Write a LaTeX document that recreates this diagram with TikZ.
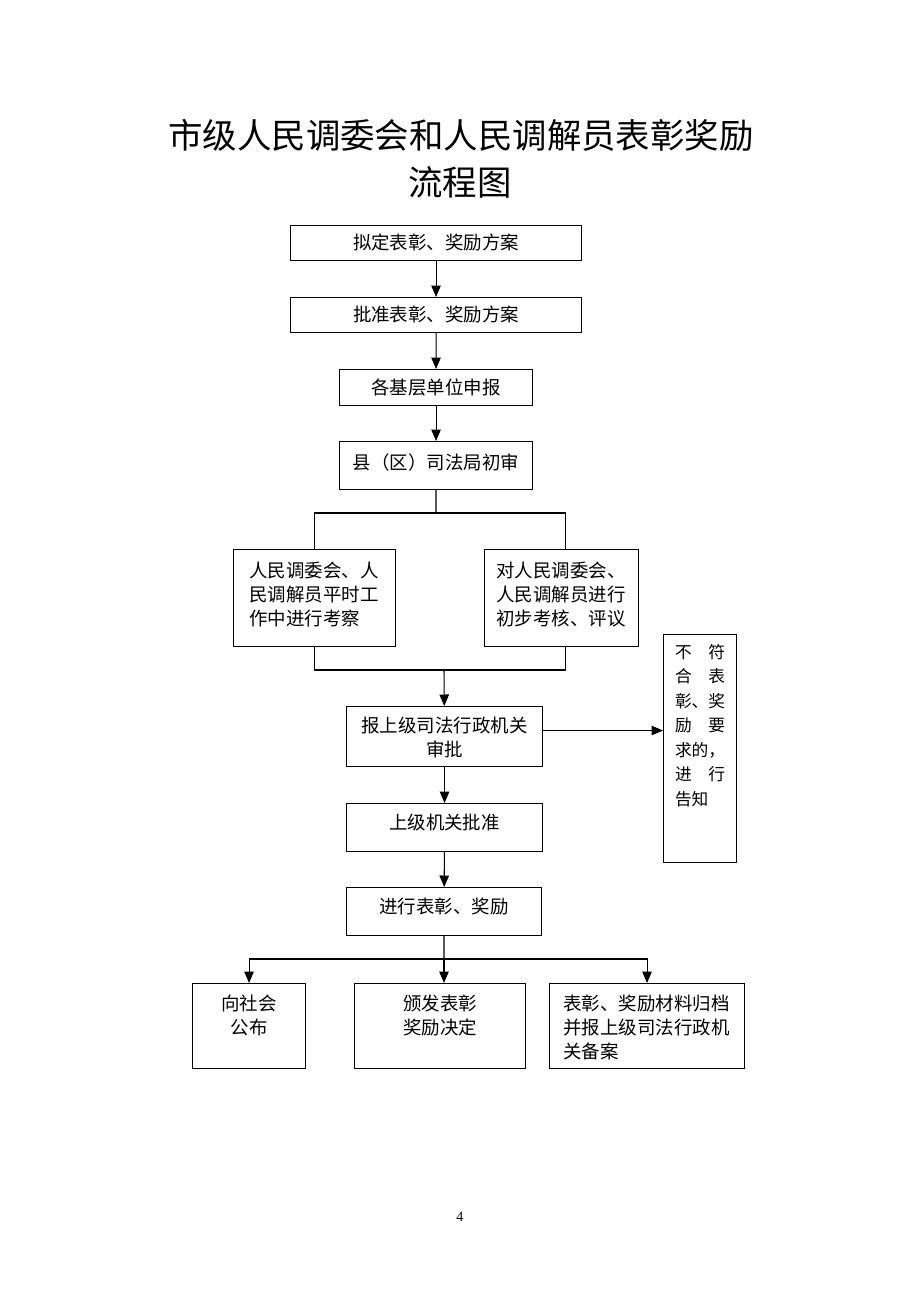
\documentclass[tikz,border=0pt]{standalone}
\usepackage{fontspec}
\setmainfont{Liberation Serif}
\newfontfamily\cjk{Noto Sans CJK SC}
\usetikzlibrary{arrows.meta}

\begin{document}
\begin{tikzpicture}[x=.2mm,y=-.2mm,line width=.6pt,>={Triangle[length=2.3mm,width=1.9mm]},
  box/.style={draw,anchor=north west,inner sep=0pt,align=center,font=\fontsize{10.5pt}{13.7pt}\selectfont\cjk},
  lbox/.style={box,align=left}]
  \useasboundingbox (0,0) rectangle (920,1302);
  \node[inner sep=0pt,font=\fontsize{19.6pt}{24pt}\selectfont\cjk] (title) at (461,135) {市级人民调委会和人民调解员表彰奖励};
  \node[inner sep=0pt,font=\fontsize{19.6pt}{24pt}\selectfont\cjk] (title2) at (460,182) {流程图};
  \node[box,text width=58.2mm,text height=4.8mm,text depth=2.2mm] (s1) at (290,225) {拟定表彰、奖励方案};
  \node[box,text width=58.2mm,text height=4.8mm,text depth=2.2mm] (s2) at (290,297) {批准表彰、奖励方案};
  \node[box,text width=38.6mm,text height=5mm,text depth=2.2mm] (s3) at (339,369) {各基层单位申报};
  \node[box,text width=38.6mm,text height=5.6mm,text depth=4mm] (s4) at (339,441) {县（区）司法局初审};
  \node[lbox,inner xsep=3.2mm,text width=26mm,text height=5.6mm,text depth=13.8mm] (work) at (233,549) {人民调委会、人\\民调解员平时工\\作中进行考察};
  \node[lbox,inner xsep=2.4mm,text width=26mm,text height=5.6mm,text depth=13.8mm] (eval) at (484,549) {对人民调委会、\\人民调解员进行\\初步考核、评议};
  \node[box,text width=39.2mm,text height=5.2mm,text depth=6.8mm] (s5) at (346,706) {报上级司法行政机关\\审批};
  \node[lbox,inner xsep=2.3mm,text width=10mm,text height=4.8mm,text depth=40.8mm,font=\fontsize{9.5pt}{13.9pt}\selectfont\cjk] (no) at (663,634)
    {\makebox[10mm][s]{不\hfill 符}\\\makebox[10mm][s]{合\hfill 表}\\\makebox[10mm][s]{彰\hfill 、\hfill 奖}\\\makebox[10mm][s]{励\hfill 要}\\\makebox[10mm][s]{求\hfill 的\hfill ，}\\\makebox[10mm][s]{进\hfill 行}\\告知};
  \node[box,text width=39.2mm,text height=5.2mm,text depth=4.4mm] (s6) at (346,803) {上级机关批准};
  \node[box,text width=39mm,text height=5.2mm,text depth=4.4mm] (s7) at (346,887) {进行表彰、奖励};
  \node[box,text width=22.6mm,text height=5.4mm,text depth=11.6mm] (pub) at (192,983) {向社会\\公布};
  \node[box,text width=34.2mm,text height=5.4mm,text depth=11.6mm] (dec) at (354,983) {颁发表彰\\奖励决定};
  \node[lbox,inner xsep=2.8mm,text width=33.4mm,text height=5.4mm,text depth=11.6mm] (arch) at (549,983) {表彰、奖励材料归档\\并报上级司法行政机\\关备案};
  \node[font=\fontsize{8pt}{9pt}\selectfont] (page) at (460,1217) {4};
  \coordinate (j1) at (436,513);
  \coordinate (j2) at (444,670);
  \coordinate (j3) at (444,959);
  \draw[->] (s1) -- (s2);
  \draw[->] (s2) -- (s3);
  \draw[->] (s3) -- (s4);
  \draw (s4) -- (j1);
  \draw (work) |- (j1) -| ([xshift=.8mm]eval.north);
  \draw (work) |- (j2) -| ([xshift=.8mm]eval.south);
  \draw[->] (j2) -- (s5);
  \draw[->] ([yshift=1.2mm]s5.east) -- ([yshift=1.2mm]s5.east -| no.west);
  \draw[->] (s5) -- (s6);
  \draw[->] (s6) -- (s7);
  \draw (s7) -- (j3);
  \draw[->] (j3) -| (pub);
  \draw[->] (j3) -- (j3 |- dec.north);
  \draw[->] (j3) -| (arch);
\end{tikzpicture}
\end{document}
